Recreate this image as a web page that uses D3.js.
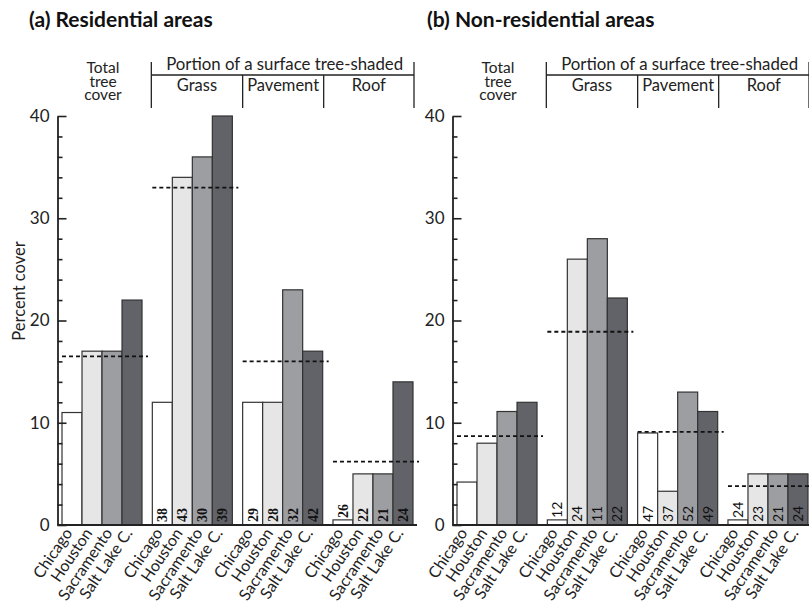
<!DOCTYPE html>
<html>
<head>
<meta charset="utf-8">
<script src="https://cdn.jsdelivr.net/npm/d3@7"></script>
<style>
  html, body { margin: 0; padding: 0; background: #fff; }
  svg { display: block; font-family: Lato, "Open Sans", sans-serif; }
</style>
</head>
<body>
<svg id="chart" width="809" height="607"></svg>
<script>
// Cities and surface groups
const cities = ["Chicago", "Houston", "Sacramento", "Salt Lake C."];
const groups = ["total", "grass", "pavement", "roof"];
const groupLabels = ["Grass", "Pavement", "Roof"];
const yTicks = [0, 10, 20, 30, 40];

// (a) Residential areas: percent cover per city
const resTotal    = [11, 17, 17, 22];
const resGrass    = [12, 34, 36, 40];
const resPavement = [12, 12, 23, 17];
const resRoof     = [0.5, 5, 5, 14];
const resMeans    = [16.5, 33, 16, 6.2];
const resNGrass    = [38, 43, 30, 39];
const resNPavement = [29, 28, 32, 42];
const resNRoof     = [26, 22, 21, 24];

// (b) Non-residential areas: percent cover per city
const nonTotal    = [4.2, 8, 11.1, 12];
const nonGrass    = [0.5, 26, 28, 22.2];
const nonPavement = [9, 3.3, 13, 11.1];
const nonRoof     = [0.5, 5, 5, 5];
const nonMeans    = [8.7, 18.9, 9.1, 3.8];
const nonNGrass    = [12, 24, 11, 22];
const nonNPavement = [47, 37, 52, 49];
const nonNRoof     = [24, 23, 21, 24];

const colors = ["#ffffff", "#e6e6e6", "#9d9ea2", "#626368"];

const panels = [
  { title: "(a) Residential areas", titleX: 29, x0: 62,
    values: [resTotal, resGrass, resPavement, resRoof], means: resMeans,
    counts: [null, resNGrass, resNPavement, resNRoof],
    countFont: "'Liberation Serif', serif", countWeight: "bold", countSize: 14 },
  { title: "(b) Non-residential areas", titleX: 427, x0: 457,
    values: [nonTotal, nonGrass, nonPavement, nonRoof], means: nonMeans,
    counts: [null, nonNGrass, nonNPavement, nonNRoof],
    countFont: "Lato, sans-serif", countWeight: "normal", countSize: 14 }
];

const svg = d3.select("#chart");
const y = d3.scaleLinear().domain([0, 40]).range([525, 116]);
const ink = "#222";

panels.forEach((p, pi) => {
  const g = svg.append("g");
  const gx = d3.scaleBand().domain(groups).range([p.x0, p.x0 + 351]).paddingInner(0.114).paddingOuter(0);
  const cx = d3.scaleBand().domain(cities).range([0, gx.bandwidth()]).padding(0);
  const axisX = p.x0 - 4.5;

  // title
  g.append("text").attr("x", p.titleX).attr("y", 27)
    .attr("font-size", 21).attr("font-weight", "bold").attr("fill", "#111")
    .text(p.title);

  // header block
  const gStart = gx("grass") - 1;
  const pStart = gx("pavement");
  const pEnd = gx("pavement") + gx.bandwidth() + 1;
  const rEnd = gx("roof") + gx.bandwidth() + 1;
  const hdr = g.append("g").attr("stroke", ink).attr("stroke-width", 1.3);
  hdr.append("line").attr("x1", gStart).attr("x2", gStart).attr("y1", 62).attr("y2", 108);
  hdr.append("line").attr("x1", rEnd).attr("x2", rEnd).attr("y1", 62).attr("y2", 108);
  hdr.append("line").attr("x1", gStart).attr("x2", rEnd).attr("y1", 75).attr("y2", 75);
  hdr.append("line").attr("x1", pStart).attr("x2", pStart).attr("y1", 75).attr("y2", 108);
  hdr.append("line").attr("x1", pEnd).attr("x2", pEnd).attr("y1", 75).attr("y2", 108);

  g.append("text").attr("x", (gStart + rEnd) / 2 + 2).attr("y", 70)
    .attr("text-anchor", "middle").attr("font-size", 16.8).attr("fill", ink)
    .text("Portion of a surface tree-shaded");
  const sub = [[gStart, pStart], [pStart, pEnd], [pEnd, rEnd]];
  groupLabels.forEach((t, i) => {
    g.append("text").attr("x", (sub[i][0] + sub[i][1]) / 2).attr("y", 91)
      .attr("text-anchor", "middle").attr("font-size", 16.5).attr("fill", ink).text(t);
  });
  const tc = gx("total") + gx.bandwidth() / 2 + 1;
  const tt = g.append("text").attr("y", 73).attr("text-anchor", "middle")
    .attr("font-size", 15.5).attr("fill", ink);
  ["Total", "tree", "cover"].forEach((t, i) => {
    tt.append("tspan").attr("x", tc).attr("dy", i === 0 ? 0 : 13.7).text(t);
  });

  // bars
  groups.forEach((grp, gi) => {
    const gg = g.append("g").attr("transform", `translate(${gx(grp)},0)`);
    const vals = p.values[gi];
    gg.selectAll("rect").data(vals).join("rect")
      .attr("x", (d, i) => cx(cities[i]))
      .attr("y", d => y(d))
      .attr("width", cx.bandwidth())
      .attr("height", d => y(0) - y(d))
      .attr("fill", (d, i) => colors[i])
      .attr("stroke", "#333").attr("stroke-width", 1.2);

    // sample counts at the foot of each bar (above it when the bar is too short)
    if (p.counts[gi]) {
      gg.selectAll("text.n").data(p.counts[gi]).join("text").attr("class", "n")
        .attr("transform", (d, i) => {
          const h = y(0) - y(vals[i]);
          const base = h < 12 ? y(vals[i]) - 2 : y(0) - 3;
          return `translate(${cx(cities[i]) + cx.bandwidth() / 2},${base}) rotate(-90)`;
        })
        .attr("dy", "0.36em")
        .attr("font-family", p.countFont).attr("font-weight", p.countWeight)
        .attr("font-size", p.countSize).attr("fill", "#111")
        .text(d => d);
    }

    // city labels
    gg.selectAll("text.city").data(cities).join("text").attr("class", "city")
      .attr("transform", d => `translate(${cx(d) + cx.bandwidth() / 2 + 1},533) rotate(-56)`)
      .attr("text-anchor", "end").attr("font-size", 16).attr("fill", ink)
      .text(d => d);

    // mean line
    gg.append("line")
      .attr("x1", 0).attr("x2", gx.bandwidth() + 6)
      .attr("y1", y(p.means[gi])).attr("y2", y(p.means[gi]))
      .attr("stroke", "#111").attr("stroke-width", 1.8).attr("stroke-dasharray", "4,3");
  });

  // x baseline
  g.append("line").attr("x1", axisX).attr("x2", Math.min(p.x0 + 355, 809))
    .attr("y1", y(0)).attr("y2", y(0)).attr("stroke", ink).attr("stroke-width", 1.8);

  // y axis: major and minor ticks pointing inward
  const major = d3.axisLeft(y).tickValues(yTicks).tickSize(-9).tickSizeOuter(0).tickPadding(8);
  const minor = d3.axisLeft(y).tickValues(d3.range(2, 40, 2).filter(v => v % 10 !== 0))
    .tickSize(-5).tickFormat("");
  const ya = g.append("g").attr("transform", `translate(${axisX},0)`).call(major);
  ya.select(".domain").attr("stroke", ink).attr("stroke-width", 1.8);
  ya.selectAll(".tick line").attr("stroke", ink).attr("stroke-width", 1.6);
  ya.selectAll(".tick text").attr("font-family", "Lato, sans-serif").attr("font-size", 17).attr("fill", ink);
  const ym = g.append("g").attr("transform", `translate(${axisX},0)`).call(minor);
  ym.select(".domain").remove();
  ym.selectAll(".tick line").attr("stroke", ink).attr("stroke-width", 1.6);

  if (pi === 0) {
    g.append("text").attr("transform", "translate(25,291) rotate(-90)")
      .attr("text-anchor", "middle").attr("font-size", 16.5).attr("fill", ink)
      .text("Percent cover");
  }
});
</script>
</body>
</html>
